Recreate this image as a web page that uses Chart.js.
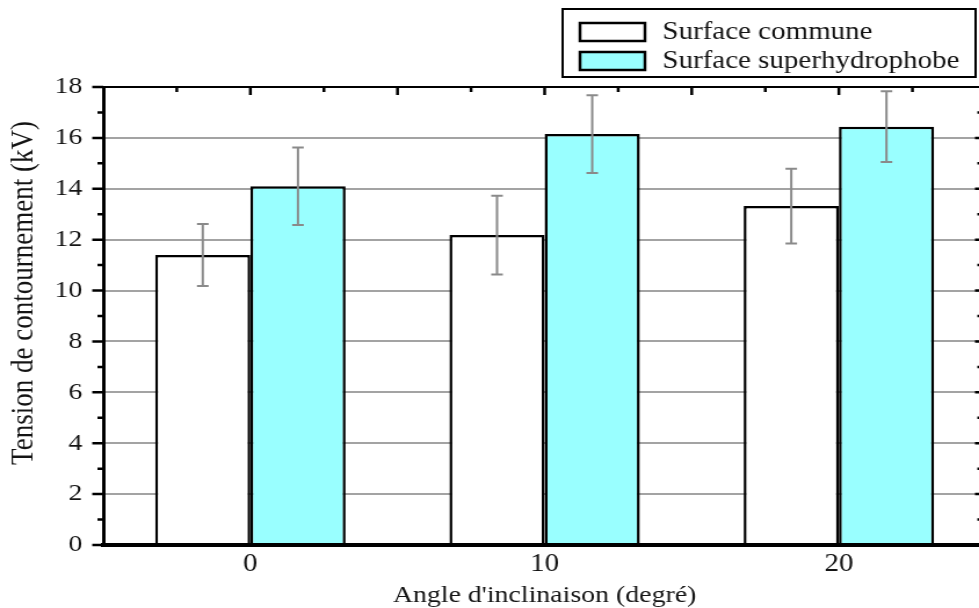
<!DOCTYPE html>
<html>
<head>
<meta charset="utf-8">
<script src="https://cdn.jsdelivr.net/npm/chart.js@4.4.1/dist/chart.umd.min.js"></script>
<style>
  html, body { margin: 0; padding: 0; overflow: hidden; background: #fff; }
  /* the reference picture is stretched sideways, so the whole chart is too */
  #wrap { width: 851px; height: 608px; transform: scaleX(1.16); transform-origin: 0 0; }
</style>
</head>
<body>
<div id="wrap"><canvas id="chart"></canvas></div>
<script>
(() => {
    "use strict";

    const categories = ["0", "10", "20"];
    const seriesLabels = ["Surface commune", "Surface superhydrophobe"];
    const commune = [11.4, 12.18, 13.32];
    const superhydro = [14.1, 16.15, 16.44];
    const communeErr = [1.22, 1.55, 1.47];
    const superhydroErr = [1.52, 1.53, 1.39];
    const yTicks = [0, 2, 4, 6, 8, 10, 12, 14, 16, 18];

    const serif = "'Liberation Serif', 'Times New Roman', serif";
    const ink = "#141414";

    // error bars, taken from each dataset's "errors" array
    const errorBars = {
        id: "errorBars",
        afterDatasetsDraw(chart) {
            const { ctx } = chart;
            const y = chart.scales.y;
            ctx.save();
            ctx.strokeStyle = "#8a8a8a";
            ctx.lineWidth = 2;
            chart.data.datasets.forEach((ds, di) => {
                chart.getDatasetMeta(di).data.forEach((bar, i) => {
                    const v = ds.data[i];
                    const e = ds.errors[i];
                    const top = y.getPixelForValue(v + e);
                    const bot = y.getPixelForValue(v - e);
                    ctx.beginPath();
                    ctx.moveTo(bar.x, top);
                    ctx.lineTo(bar.x, bot);
                    ctx.moveTo(bar.x - 5, top);
                    ctx.lineTo(bar.x + 5, top);
                    ctx.moveTo(bar.x - 5, bot);
                    ctx.lineTo(bar.x + 5, bot);
                    ctx.stroke();
                });
            });
            ctx.restore();
        },
    };

    // frame: top border, tick marks (in and out), legend box, y title
    const frame = {
        id: "frame",
        afterDraw(chart) {
            const { ctx, chartArea: a } = chart;
            const { x, y } = chart.scales;
            ctx.save();
            ctx.strokeStyle = "#000";
            ctx.lineWidth = 2;
            ctx.beginPath();
            ctx.moveTo(a.left, a.top);
            ctx.lineTo(a.right, a.top);
            ctx.stroke();

            ctx.lineWidth = 2.5;
            ctx.beginPath();
            for (let i = -0.25; i < 2.5; i += 0.25) {
                const px = x.getPixelForValue(i);
                const major = Math.abs(i * 2 - Math.round(i * 2)) < 1e-6;
                ctx.moveTo(px, a.top);
                ctx.lineTo(px, a.top + (major ? 8 : 5));
            }
            for (let v = 0; v <= 18; v++) {
                const py = y.getPixelForValue(v);
                const major = v % 2 === 0;
                ctx.moveTo(a.left - (major ? 9.5 : 5), py);
                ctx.lineTo(a.left, py);
                if (v > 0 && v < 18) {
                    ctx.moveTo(a.right - (major ? 9.5 : 7.5), py);
                    ctx.lineTo(a.right, py);
                }
            }
            ctx.stroke();

            // y title
            ctx.fillStyle = ink;
            ctx.font = "27px " + serif;
            ctx.textAlign = "center";
            ctx.textBaseline = "middle";
            ctx.save();
            ctx.translate(21, 293);
            ctx.rotate(-Math.PI / 2);
            ctx.fillText("Tension de contournement (kV)", 0, 0);
            ctx.restore();

            // legend
            ctx.lineWidth = 2;
            ctx.strokeRect(485, 9, 356, 68);
            ctx.textAlign = "left";
            ctx.textBaseline = "alphabetic";
            ctx.font = "25px " + serif;
            chart.data.datasets.forEach((ds, i) => {
                const top = 23 + i * 29;
                ctx.fillStyle = ds.backgroundColor;
                ctx.fillRect(500, top, 56, 18);
                ctx.lineWidth = 2.5;
                ctx.strokeRect(500, top, 56, 18);
                ctx.fillStyle = ink;
                ctx.fillText(ds.label, 571, top + 16);
            });
            ctx.restore();
        },
    };

    new Chart(document.getElementById("chart"), {
        type: "bar",
        data: {
            labels: categories,
            datasets: [
                { label: seriesLabels[0], data: commune, errors: communeErr, backgroundColor: "#ffffff" },
                { label: seriesLabels[1], data: superhydro, errors: superhydroErr, backgroundColor: "#99ffff" },
            ],
        },
        options: {
            responsive: true,
            maintainAspectRatio: false,
            animation: false,
            layout: { padding: { top: 87, right: 1, left: 0, bottom: 0 } },
            datasets: {
                bar: {
                    borderColor: "#000",
                    borderWidth: 2.5,
                    borderSkipped: "bottom",
                    categoryPercentage: 0.647,
                    barPercentage: 1,
                },
            },
            plugins: {
                legend: { display: false },
                tooltip: { enabled: false },
            },
            scales: {
                x: {
                    grid: { display: false, drawTicks: false },
                    border: { display: true, color: "#000", width: 4, z: 1 },
                    ticks: { color: ink, padding: 4, font: { family: serif, size: 25 } },
                    title: {
                        display: true,
                        text: "Angle d'inclinaison (degré)",
                        color: ink,
                        padding: { top: 0, bottom: 0 },
                        font: { family: serif, size: 24, lineHeight: 1 },
                    },
                    afterFit: (s) => { s.height = 63; },
                },
                y: {
                    min: 0,
                    max: 18,
                    afterBuildTicks: (s) => { s.ticks = yTicks.map((v) => ({ value: v })); },
                    grid: {
                        drawTicks: false,
                        lineWidth: 2,
                        color: (c) => (c.tick && (c.tick.value === 0 || c.tick.value === 18) ? "rgba(0,0,0,0)" : "#a3a3a3"),
                    },
                    border: { display: true, color: "#000", width: 3, z: 1 },
                    ticks: { color: ink, padding: 18, font: { family: serif, size: 24 } },
                    afterFit: (s) => { s.width = 89; },
                },
            },
        },
        plugins: [errorBars, frame],
    });
})();
</script>
</body>
</html>
